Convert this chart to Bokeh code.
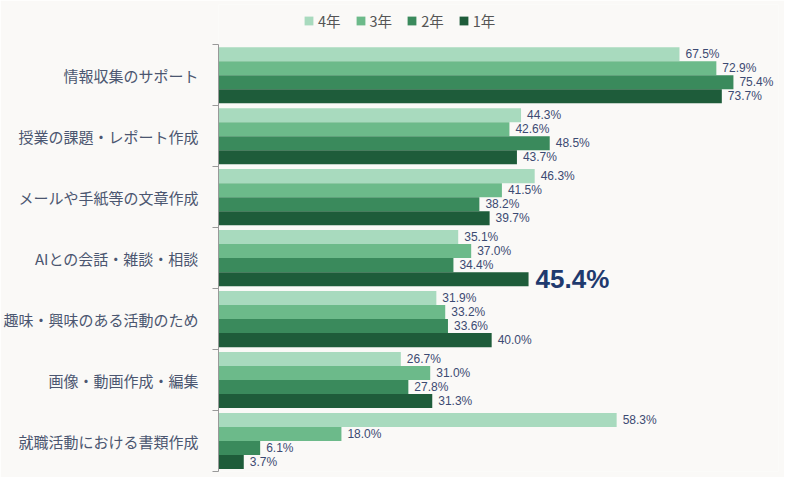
from bokeh.plotting import figure
from bokeh.embed import file_html
from bokeh.resources import INLINE
from bokeh.models import ColumnDataSource, FixedTicker, Legend, LegendItem, Range1d
from bokeh.core.properties import value

categories = [
    "情報収集のサポート",
    "授業の課題・レポート作成",
    "メールや手紙等の文章作成",
    "AIとの会話・雑談・相談",
    "趣味・興味のある活動のため",
    "画像・動画作成・編集",
    "就職活動における書類作成",
]
series = ["4年", "3年", "2年", "1年"]
values = {
    "4年": [67.5, 44.3, 46.3, 35.1, 31.9, 26.7, 58.3],
    "3年": [72.9, 42.6, 41.5, 37.0, 33.2, 31.0, 18.0],
    "2年": [75.4, 48.5, 38.2, 34.4, 33.6, 27.8, 6.1],
    "1年": [73.7, 43.7, 39.7, 45.4, 40.0, 31.3, 3.7],
}
colors = ["#a8dabe", "#6cba8a", "#3a8a5c", "#1e5c3a"]
highlight = ("1年", 3)  # the big 45.4% label

FONT = "Noto Sans CJK JP"
NUM_FONT = "Liberation Sans"
BG = "#faf9f7"

n = len(categories)
centers = [n - 1 - i for i in range(n)]
bar_h = 0.23

# extra room above the groups is kept inside the frame for the legend
p = figure(width=784, height=477, output_backend="svg", toolbar_location=None,
           x_range=Range1d(0, 82), y_range=Range1d(-0.5, n - 0.5 + 0.66),
           min_border_left=218, min_border_right=6,
           min_border_top=4, min_border_bottom=6)
p.background_fill_color = BG
p.border_fill_color = BG
p.outline_line_color = None
p.grid.visible = False
p.xaxis.visible = False

items = []
for j, s in enumerate(series):
    off = (1.5 - j) * bar_h
    ys = [c + off for c in centers]
    vals = values[s]
    labels = [f"{v:.1f}%" for v in vals]
    src = ColumnDataSource(dict(y=ys, v=vals, lab=labels))
    r = p.hbar(y="y", right="v", left=0, height=bar_h, source=src,
               fill_color=colors[j], line_color=None)
    items.append(LegendItem(label=s, renderers=[r]))

    # normal value labels
    norm = [k for k in range(n) if not (s == highlight[0] and k == highlight[1])]
    lsrc = ColumnDataSource(dict(y=[ys[k] for k in norm], v=[vals[k] for k in norm],
                                 lab=[labels[k] for k in norm]))
    p.text(x="v", y="y", text="lab", source=lsrc, x_offset=6,
           text_baseline="middle", text_align="left", text_font=value(NUM_FONT),
           text_font_size="12px", text_color="#3c4a72")
    if s == highlight[0]:
        k = highlight[1]
        hsrc = ColumnDataSource(dict(y=[ys[k]], v=[vals[k]], lab=[labels[k]]))
        p.text(x="v", y="y", text="lab", source=hsrc, x_offset=7,
               text_baseline="middle", text_align="left", text_font=value(NUM_FONT),
               text_font_size="26px", text_font_style="bold", text_color="#1f3a6e")

yax = p.yaxis[0]
yax.bounds = (-0.5, n - 0.5)
yax.ticker = FixedTicker(ticks=centers, minor_ticks=[c - 0.5 for c in range(n + 1)])
yax.major_label_overrides = {c: categories[i] for i, c in enumerate(centers)}
yax.major_tick_line_color = None
yax.major_tick_out = 0
yax.major_tick_in = 0
yax.minor_tick_out = 6
yax.minor_tick_in = 0
yax.minor_tick_line_color = "#999999"
yax.axis_line_color = "#999999"
yax.major_label_standoff = 14
yax.major_label_text_font = FONT
yax.major_label_text_font_size = "15px"
yax.major_label_text_color = "#4b5670"

legend = Legend(items=items, orientation="horizontal", location=(85, 440),
                glyph_width=11, glyph_height=11, label_standoff=4, spacing=14,
                padding=4, margin=0, border_line_color=None,
                background_fill_alpha=0, label_text_font=FONT,
                label_text_font_size="14.5px", label_text_color="#555555")
p.add_layout(legend)

open("out.html", "w").write(file_html(p, INLINE))
